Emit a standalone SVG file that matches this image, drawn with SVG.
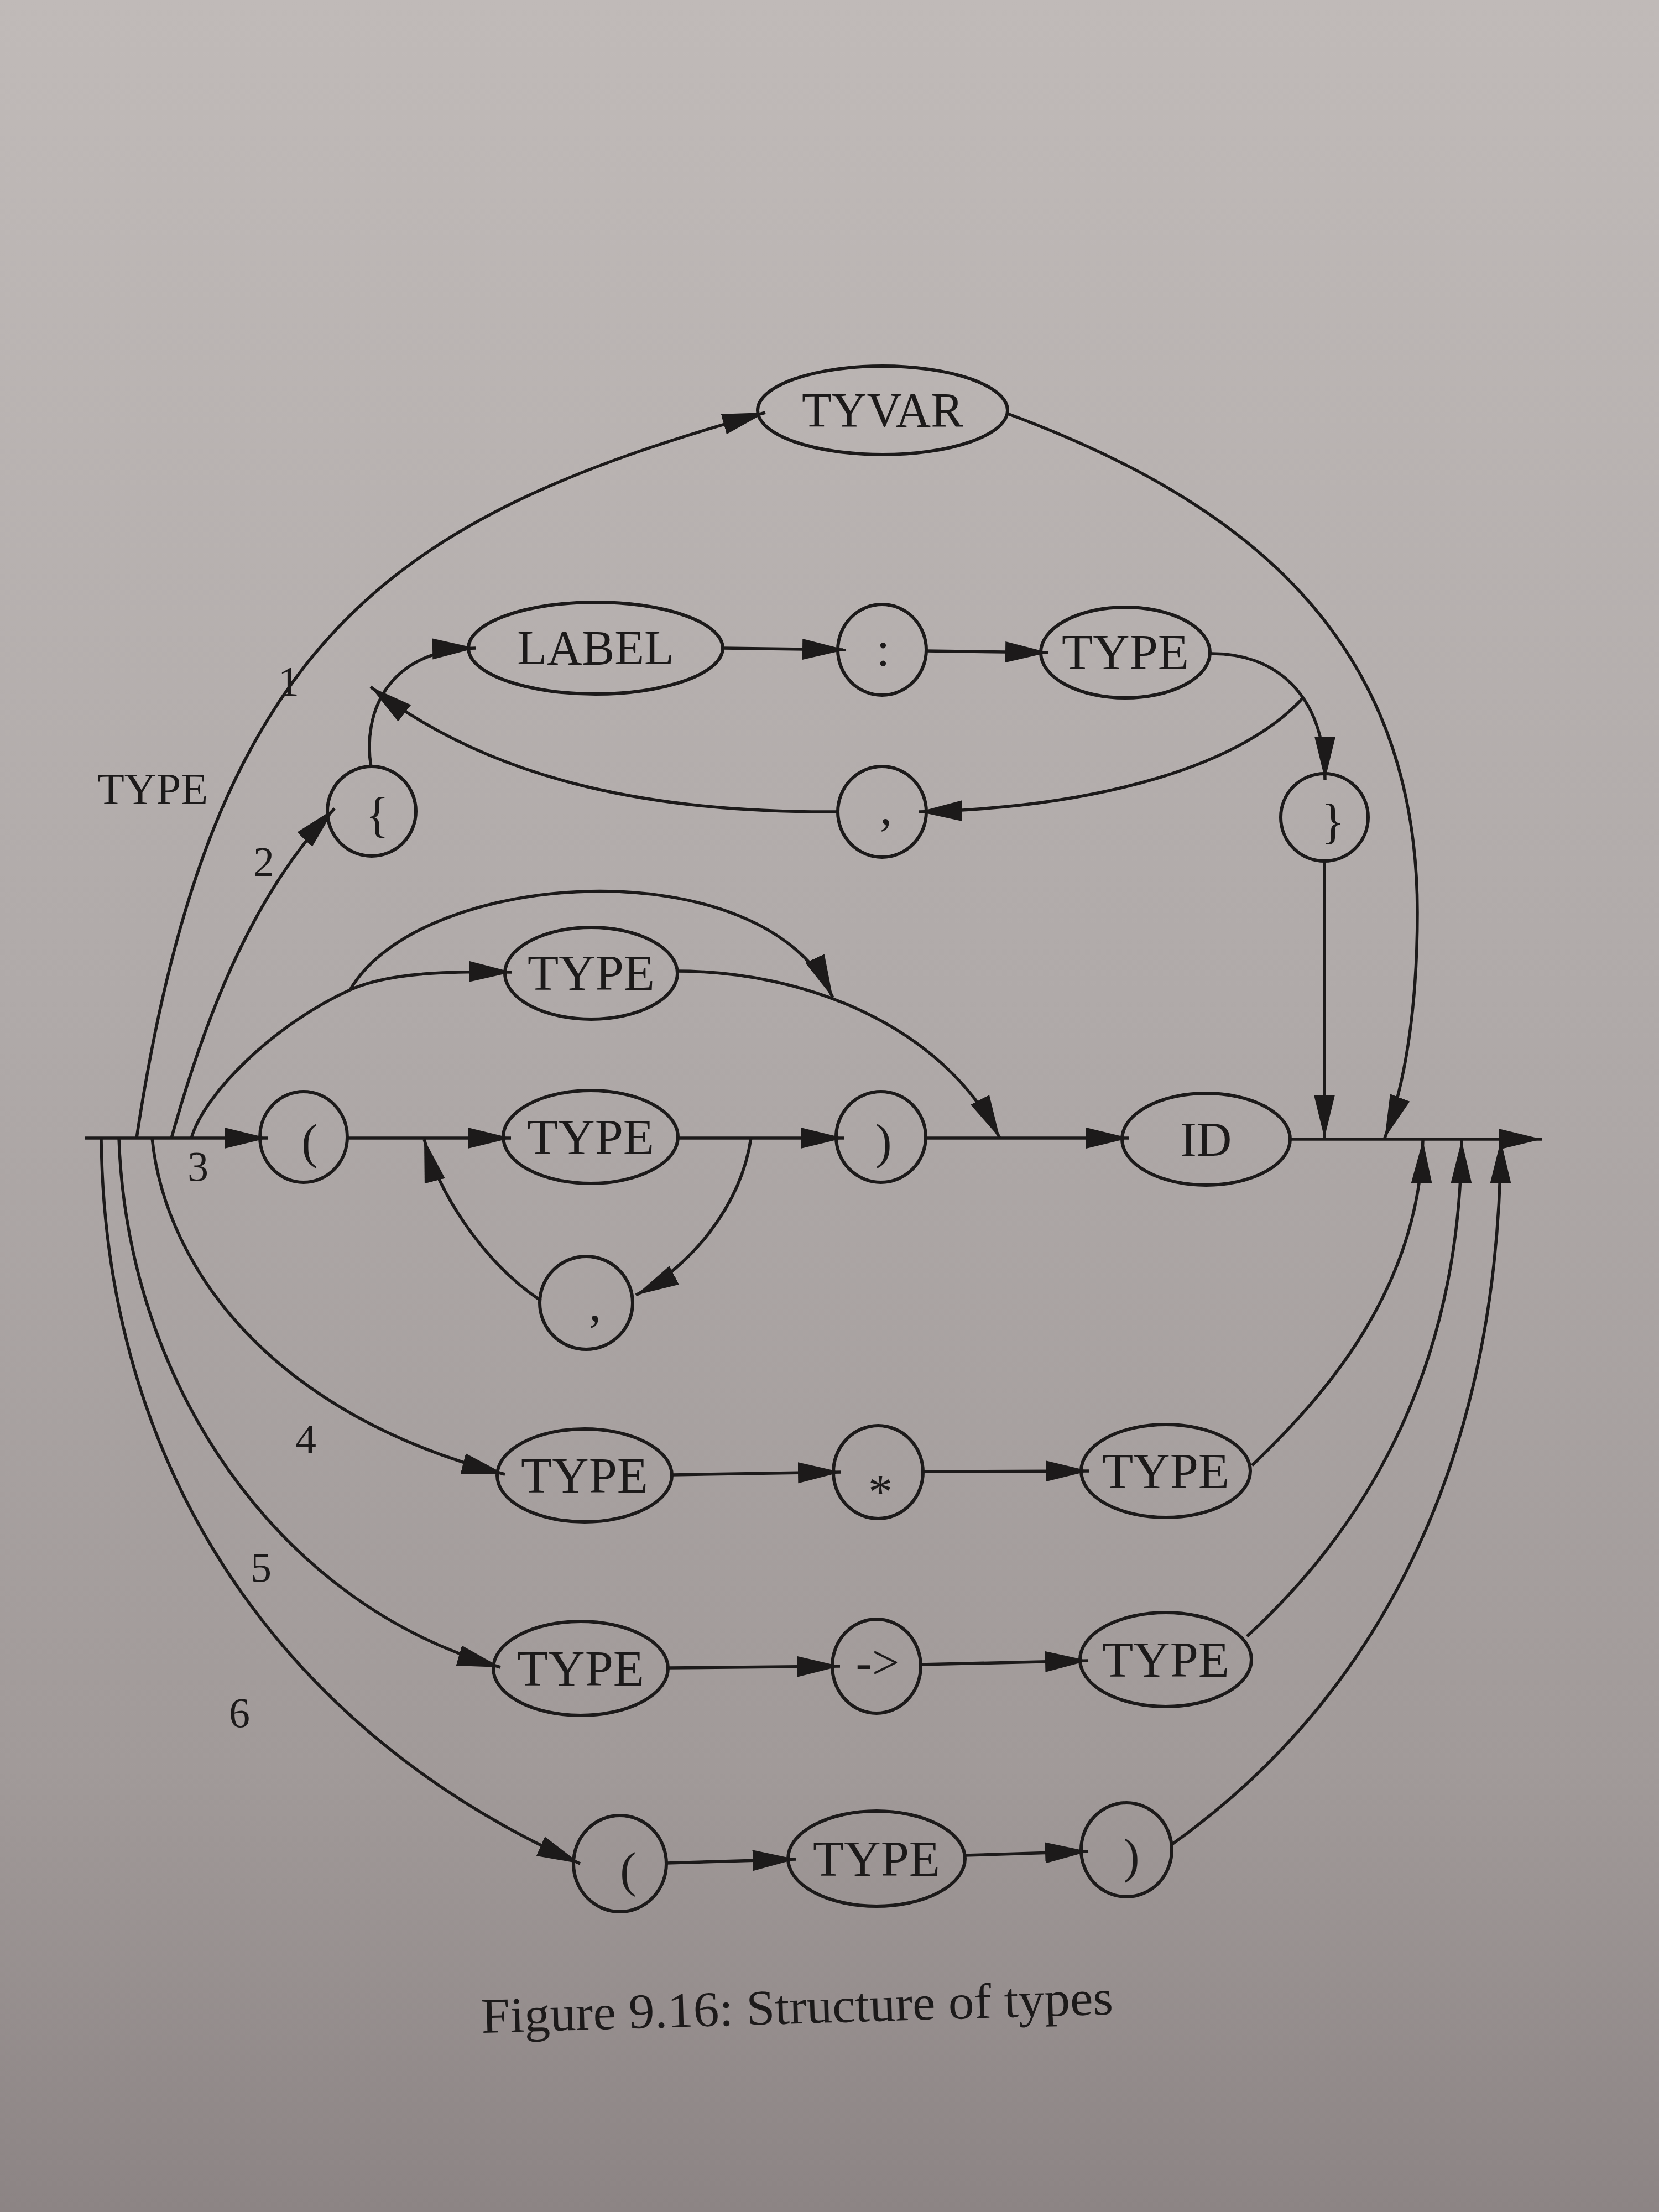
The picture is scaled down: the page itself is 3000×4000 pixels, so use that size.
<svg xmlns="http://www.w3.org/2000/svg" width="3000" height="4000" viewBox="0 0 3000 4000">
  <defs>
    <linearGradient id="paper" x1="0" y1="0" x2="0" y2="1">
      <stop offset="0" stop-color="#c0bab8"/>
      <stop offset="0.45" stop-color="#b0aaa9"/>
      <stop offset="0.8" stop-color="#a19a99"/>
      <stop offset="1" stop-color="#8c8484"/>
    </linearGradient>
    <marker id="arr" markerUnits="userSpaceOnUse" markerWidth="80" markerHeight="42" refX="78" refY="21" orient="auto" viewBox="0 0 80 42">
      <path d="M0,2 L78,21 L0,40 Z" fill="#1c1a1a"/>
    </marker>
    <style>
      .node ellipse { fill: none; stroke: #1c1a1a; stroke-width: 6; }
      .node text, .lbl { font-family: "Liberation Serif", "Times New Roman", serif; font-size: 88px; fill: #1c1a1a; text-anchor: middle; }
      .node text.wide { font-size: 92px; }
      .lbl { font-size: 76px; }
      .edges path { fill: none; stroke: #1c1a1a; stroke-width: 5.5; }
      .edges path.a { marker-end: url(#arr); }
      .caption { font-family: "Liberation Serif", "Times New Roman", serif; font-size: 90px; fill: #1c1a1a; }
    </style>
  </defs>

  <rect x="0" y="0" width="3000" height="4000" fill="url(#paper)"/>

  <g class="edges" id="connectors">
    <!-- main line -->
    <path class="a" d="M153,2058 H484"/>
    <path class="a" d="M627,2058 H924"/>
    <path class="a" d="M1226,2058 H1526"/>
    <path class="a" d="M1674,2058 H2042"/>
    <path class="a" d="M2332,2060 H2788"/>

    <!-- alternative 1: TYVAR -->
    <path class="a" d="M247,2058 C382,1158 702,936 1384,746"/>
    <path class="a" d="M1822,748 C2245,905 2563,1150 2563,1650 C2563,1800 2546,1947 2504,2058"/>

    <!-- alternative 2: record -->
    <path class="a" d="M310,2058 C377,1818 464,1608 605,1462"/>
    <path class="a" d="M671,1387 C655,1290 700,1175 860,1172"/>
    <path class="a" d="M1307,1172 L1529,1175"/>
    <path class="a" d="M1675,1177 L1896,1180"/>
    <path class="a" d="M2188,1182 C2300,1180 2396,1250 2396,1410"/>
    <path class="a" d="M2356,1262 C2250,1380 2000,1460 1662,1468"/>
    <path class="a" d="M1515,1468 C1200,1470 900,1420 670,1242"/>
    <path class="a" d="M2395,1557 V2058"/>

    <!-- alternative 3 -->
    <path d="M346,2058 C370,1975 500,1850 633,1790"/>
    <path class="a" d="M633,1790 C700,1760 800,1756 926,1758"/>
    <path class="a" d="M633,1790 C760,1570 1380,1530 1506,1804"/>
    <path class="a" d="M1224,1756 C1450,1756 1700,1850 1808,2058"/>
    <path class="a" d="M1358,2058 C1340,2180 1250,2290 1150,2342"/>
    <path class="a" d="M978,2352 C870,2280 790,2150 767,2060"/>

    <!-- alternative 4 -->
    <path class="a" d="M275,2058 C300,2300 500,2560 913,2666"/>
    <path class="a" d="M1215,2667 L1521,2662"/>
    <path class="a" d="M1669,2661 L1969,2660"/>
    <path class="a" d="M2264,2650 C2400,2520 2565,2330 2573,2062"/>

    <!-- alternative 5 -->
    <path class="a" d="M215,2058 C230,2500 500,2900 905,3015"/>
    <path class="a" d="M1209,3016 L1519,3013"/>
    <path class="a" d="M1665,3010 L1968,3003"/>
    <path class="a" d="M2255,2959 C2450,2780 2640,2500 2643,2062"/>

    <!-- alternative 6 -->
    <path class="a" d="M183,2058 C190,2700 550,3150 1049,3370"/>
    <path class="a" d="M1205,3369 L1439,3362"/>
    <path class="a" d="M1745,3355 L1968,3348"/>
    <path class="a" d="M2118,3336 C2450,3100 2710,2700 2714,2062"/>
  </g>

  <g id="n-tyvar" class="node"><ellipse cx="1596" cy="742" rx="226" ry="80"/><text x="1596" y="771">TYVAR</text></g>
  <g id="n-label" class="node"><ellipse cx="1077" cy="1172" rx="230" ry="83"/><text x="1077" y="1201">LABEL</text></g>
  <g id="n-colon" class="node"><ellipse cx="1595" cy="1175" rx="80" ry="82"/><text x="1597" y="1204">:</text></g>
  <g id="n-type-rec" class="node"><ellipse cx="2035" cy="1180" rx="153" ry="82"/><text class="wide" x="2035" y="1210">TYPE</text></g>
  <g id="n-lbrace" class="node"><ellipse cx="672" cy="1467" rx="80" ry="81"/><text x="682" y="1503">{</text></g>
  <g id="n-comma-rec" class="node"><ellipse cx="1595" cy="1468" rx="80" ry="82"/><text x="1602" y="1490">,</text></g>
  <g id="n-rbrace" class="node"><ellipse cx="2395" cy="1478" rx="79" ry="79"/><text x="2410" y="1515">}</text></g>

  <g id="n-type-opt" class="node"><ellipse cx="1069" cy="1760" rx="156" ry="83"/><text class="wide" x="1069" y="1790">TYPE</text></g>
  <g id="n-lparen" class="node"><ellipse cx="549" cy="2056" rx="79" ry="82"/><text x="560" y="2094">(</text></g>
  <g id="n-type-tup" class="node"><ellipse cx="1068" cy="2056" rx="158" ry="84"/><text class="wide" x="1068" y="2087">TYPE</text></g>
  <g id="n-rparen" class="node"><ellipse cx="1593" cy="2056" rx="81" ry="82"/><text x="1598" y="2094">)</text></g>
  <g id="n-id" class="node"><ellipse cx="2181" cy="2060" rx="152" ry="83"/><text x="2181" y="2090">ID</text></g>
  <g id="n-comma-tup" class="node"><ellipse cx="1060" cy="2356" rx="84" ry="84"/><text x="1076" y="2388">,</text></g>

  <g id="n-type-p1" class="node"><ellipse cx="1057" cy="2668" rx="158" ry="84"/><text class="wide" x="1057" y="2699">TYPE</text></g>
  <g id="n-star" class="node"><ellipse cx="1588" cy="2662" rx="81" ry="84"/><text x="1592" y="2727">*</text></g>
  <g id="n-type-p2" class="node"><ellipse cx="2108" cy="2660" rx="153" ry="84"/><text class="wide" x="2108" y="2691">TYPE</text></g>

  <g id="n-type-f1" class="node"><ellipse cx="1050" cy="3017" rx="158" ry="85"/><text class="wide" x="1050" y="3048">TYPE</text></g>
  <g id="n-arrow" class="node"><ellipse cx="1585" cy="3013" rx="80" ry="85"/><text x="1587" y="3036">-&gt;</text></g>
  <g id="n-type-f2" class="node"><ellipse cx="2108" cy="3001" rx="155" ry="85"/><text class="wide" x="2108" y="3032">TYPE</text></g>

  <g id="n-lparen2" class="node"><ellipse cx="1121" cy="3370" rx="84" ry="87"/><text x="1136" y="3411">(</text></g>
  <g id="n-type-par" class="node"><ellipse cx="1585" cy="3361" rx="160" ry="86"/><text class="wide" x="1585" y="3392">TYPE</text></g>
  <g id="n-rparen2" class="node"><ellipse cx="2037" cy="3345" rx="82" ry="85"/><text x="2046" y="3386">)</text></g>

  <g id="labels">
    <text class="lbl" x="276" y="1454" style="font-size:80px">TYPE</text>
    <text class="lbl" x="522" y="1258">1</text>
    <text class="lbl" x="477" y="1584">2</text>
    <text class="lbl" x="358" y="2135">3</text>
    <text class="lbl" x="553" y="2628">4</text>
    <text class="lbl" x="472" y="2860">5</text>
    <text class="lbl" x="433" y="3123">6</text>
  </g>

  <text class="caption" x="871" y="3676" textLength="1143" lengthAdjust="spacingAndGlyphs" transform="rotate(-1.7 871 3676)">Figure 9.16:  Structure of types</text>
</svg>
